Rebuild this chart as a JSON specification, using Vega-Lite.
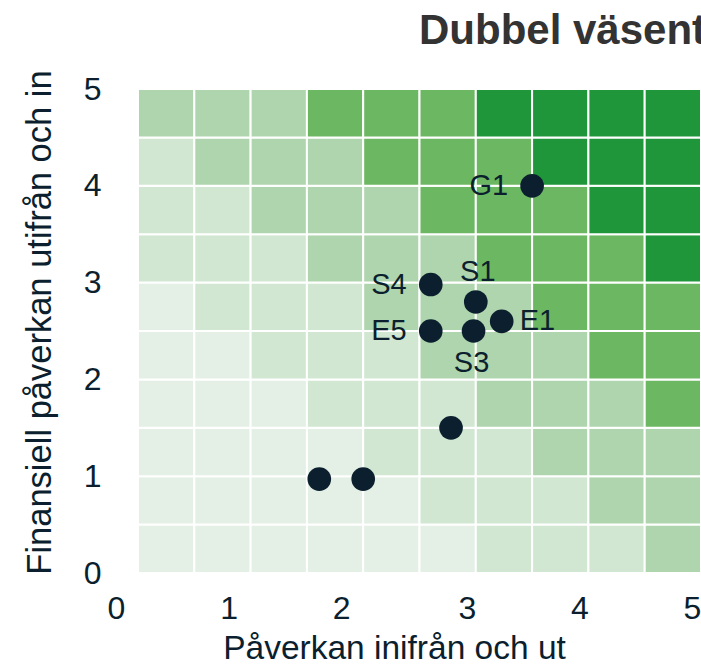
{
  "$schema": "https://vega.github.io/schema/vega-lite/v6.json",
  "width": 563,
  "height": 484,
  "autosize": {"type": "none"},
  "padding": {"left": 138, "top": 89, "right": 0, "bottom": 92},
  "background": "white",
  "title": {
    "text": "Dubbel väsentlighetsanalys",
    "anchor": "start",
    "frame": "group",
    "dx": 281,
    "dy": 42,
    "fontSize": 42,
    "font": "Liberation Sans",
    "fontWeight": "bold",
    "color": "#333333",
    "baseline": "alphabetic",
    "offset": 26
  },
  "config": {
    "view": {"stroke": null},
    "font": "Liberation Sans"
  },
  "datasets": {
    "cells": [
      {"x": 0, "x2": 0.5, "y": 0, "y2": 0.5, "v": 1}, {"x": 0.5, "x2": 1, "y": 0, "y2": 0.5, "v": 1}, {"x": 1, "x2": 1.5, "y": 0, "y2": 0.5, "v": 1}, {"x": 1.5, "x2": 2, "y": 0, "y2": 0.5, "v": 1}, {"x": 2, "x2": 2.5, "y": 0, "y2": 0.5, "v": 1}, {"x": 2.5, "x2": 3, "y": 0, "y2": 0.5, "v": 1}, {"x": 3, "x2": 3.5, "y": 0, "y2": 0.5, "v": 2}, {"x": 3.5, "x2": 4, "y": 0, "y2": 0.5, "v": 2}, {"x": 4, "x2": 4.5, "y": 0, "y2": 0.5, "v": 2}, {"x": 4.5, "x2": 5, "y": 0, "y2": 0.5, "v": 3},
      {"x": 0, "x2": 0.5, "y": 0.5, "y2": 1, "v": 1}, {"x": 0.5, "x2": 1, "y": 0.5, "y2": 1, "v": 1}, {"x": 1, "x2": 1.5, "y": 0.5, "y2": 1, "v": 1}, {"x": 1.5, "x2": 2, "y": 0.5, "y2": 1, "v": 1}, {"x": 2, "x2": 2.5, "y": 0.5, "y2": 1, "v": 1}, {"x": 2.5, "x2": 3, "y": 0.5, "y2": 1, "v": 2}, {"x": 3, "x2": 3.5, "y": 0.5, "y2": 1, "v": 2}, {"x": 3.5, "x2": 4, "y": 0.5, "y2": 1, "v": 2}, {"x": 4, "x2": 4.5, "y": 0.5, "y2": 1, "v": 3}, {"x": 4.5, "x2": 5, "y": 0.5, "y2": 1, "v": 3},
      {"x": 0, "x2": 0.5, "y": 1, "y2": 1.5, "v": 1}, {"x": 0.5, "x2": 1, "y": 1, "y2": 1.5, "v": 1}, {"x": 1, "x2": 1.5, "y": 1, "y2": 1.5, "v": 1}, {"x": 1.5, "x2": 2, "y": 1, "y2": 1.5, "v": 1}, {"x": 2, "x2": 2.5, "y": 1, "y2": 1.5, "v": 2}, {"x": 2.5, "x2": 3, "y": 1, "y2": 1.5, "v": 2}, {"x": 3, "x2": 3.5, "y": 1, "y2": 1.5, "v": 2}, {"x": 3.5, "x2": 4, "y": 1, "y2": 1.5, "v": 3}, {"x": 4, "x2": 4.5, "y": 1, "y2": 1.5, "v": 3}, {"x": 4.5, "x2": 5, "y": 1, "y2": 1.5, "v": 3},
      {"x": 0, "x2": 0.5, "y": 1.5, "y2": 2, "v": 1}, {"x": 0.5, "x2": 1, "y": 1.5, "y2": 2, "v": 1}, {"x": 1, "x2": 1.5, "y": 1.5, "y2": 2, "v": 1}, {"x": 1.5, "x2": 2, "y": 1.5, "y2": 2, "v": 2}, {"x": 2, "x2": 2.5, "y": 1.5, "y2": 2, "v": 2}, {"x": 2.5, "x2": 3, "y": 1.5, "y2": 2, "v": 2}, {"x": 3, "x2": 3.5, "y": 1.5, "y2": 2, "v": 3}, {"x": 3.5, "x2": 4, "y": 1.5, "y2": 2, "v": 3}, {"x": 4, "x2": 4.5, "y": 1.5, "y2": 2, "v": 3}, {"x": 4.5, "x2": 5, "y": 1.5, "y2": 2, "v": 4},
      {"x": 0, "x2": 0.5, "y": 2, "y2": 2.5, "v": 1}, {"x": 0.5, "x2": 1, "y": 2, "y2": 2.5, "v": 1}, {"x": 1, "x2": 1.5, "y": 2, "y2": 2.5, "v": 2}, {"x": 1.5, "x2": 2, "y": 2, "y2": 2.5, "v": 2}, {"x": 2, "x2": 2.5, "y": 2, "y2": 2.5, "v": 2}, {"x": 2.5, "x2": 3, "y": 2, "y2": 2.5, "v": 3}, {"x": 3, "x2": 3.5, "y": 2, "y2": 2.5, "v": 3}, {"x": 3.5, "x2": 4, "y": 2, "y2": 2.5, "v": 3}, {"x": 4, "x2": 4.5, "y": 2, "y2": 2.5, "v": 4}, {"x": 4.5, "x2": 5, "y": 2, "y2": 2.5, "v": 4},
      {"x": 0, "x2": 0.5, "y": 2.5, "y2": 3, "v": 1}, {"x": 0.5, "x2": 1, "y": 2.5, "y2": 3, "v": 2}, {"x": 1, "x2": 1.5, "y": 2.5, "y2": 3, "v": 2}, {"x": 1.5, "x2": 2, "y": 2.5, "y2": 3, "v": 2}, {"x": 2, "x2": 2.5, "y": 2.5, "y2": 3, "v": 3}, {"x": 2.5, "x2": 3, "y": 2.5, "y2": 3, "v": 3}, {"x": 3, "x2": 3.5, "y": 2.5, "y2": 3, "v": 3}, {"x": 3.5, "x2": 4, "y": 2.5, "y2": 3, "v": 4}, {"x": 4, "x2": 4.5, "y": 2.5, "y2": 3, "v": 4}, {"x": 4.5, "x2": 5, "y": 2.5, "y2": 3, "v": 4},
      {"x": 0, "x2": 0.5, "y": 3, "y2": 3.5, "v": 2}, {"x": 0.5, "x2": 1, "y": 3, "y2": 3.5, "v": 2}, {"x": 1, "x2": 1.5, "y": 3, "y2": 3.5, "v": 2}, {"x": 1.5, "x2": 2, "y": 3, "y2": 3.5, "v": 3}, {"x": 2, "x2": 2.5, "y": 3, "y2": 3.5, "v": 3}, {"x": 2.5, "x2": 3, "y": 3, "y2": 3.5, "v": 3}, {"x": 3, "x2": 3.5, "y": 3, "y2": 3.5, "v": 4}, {"x": 3.5, "x2": 4, "y": 3, "y2": 3.5, "v": 4}, {"x": 4, "x2": 4.5, "y": 3, "y2": 3.5, "v": 4}, {"x": 4.5, "x2": 5, "y": 3, "y2": 3.5, "v": 5},
      {"x": 0, "x2": 0.5, "y": 3.5, "y2": 4, "v": 2}, {"x": 0.5, "x2": 1, "y": 3.5, "y2": 4, "v": 2}, {"x": 1, "x2": 1.5, "y": 3.5, "y2": 4, "v": 3}, {"x": 1.5, "x2": 2, "y": 3.5, "y2": 4, "v": 3}, {"x": 2, "x2": 2.5, "y": 3.5, "y2": 4, "v": 3}, {"x": 2.5, "x2": 3, "y": 3.5, "y2": 4, "v": 4}, {"x": 3, "x2": 3.5, "y": 3.5, "y2": 4, "v": 4}, {"x": 3.5, "x2": 4, "y": 3.5, "y2": 4, "v": 4}, {"x": 4, "x2": 4.5, "y": 3.5, "y2": 4, "v": 5}, {"x": 4.5, "x2": 5, "y": 3.5, "y2": 4, "v": 5},
      {"x": 0, "x2": 0.5, "y": 4, "y2": 4.5, "v": 2}, {"x": 0.5, "x2": 1, "y": 4, "y2": 4.5, "v": 3}, {"x": 1, "x2": 1.5, "y": 4, "y2": 4.5, "v": 3}, {"x": 1.5, "x2": 2, "y": 4, "y2": 4.5, "v": 3}, {"x": 2, "x2": 2.5, "y": 4, "y2": 4.5, "v": 4}, {"x": 2.5, "x2": 3, "y": 4, "y2": 4.5, "v": 4}, {"x": 3, "x2": 3.5, "y": 4, "y2": 4.5, "v": 4}, {"x": 3.5, "x2": 4, "y": 4, "y2": 4.5, "v": 5}, {"x": 4, "x2": 4.5, "y": 4, "y2": 4.5, "v": 5}, {"x": 4.5, "x2": 5, "y": 4, "y2": 4.5, "v": 5},
      {"x": 0, "x2": 0.5, "y": 4.5, "y2": 5, "v": 3}, {"x": 0.5, "x2": 1, "y": 4.5, "y2": 5, "v": 3}, {"x": 1, "x2": 1.5, "y": 4.5, "y2": 5, "v": 3}, {"x": 1.5, "x2": 2, "y": 4.5, "y2": 5, "v": 4}, {"x": 2, "x2": 2.5, "y": 4.5, "y2": 5, "v": 4}, {"x": 2.5, "x2": 3, "y": 4.5, "y2": 5, "v": 4}, {"x": 3, "x2": 3.5, "y": 4.5, "y2": 5, "v": 5}, {"x": 3.5, "x2": 4, "y": 4.5, "y2": 5, "v": 5}, {"x": 4, "x2": 4.5, "y": 4.5, "y2": 5, "v": 5}, {"x": 4.5, "x2": 5, "y": 4.5, "y2": 5, "v": 5}
    ],
    "points": [
      {"label": "G1", "x": 3.5, "y": 4.0},
      {"label": "S4", "x": 2.6, "y": 2.98},
      {"label": "S1", "x": 3.0, "y": 2.8},
      {"label": "E5", "x": 2.6, "y": 2.5},
      {"label": "S3", "x": 2.98, "y": 2.5},
      {"label": "E1", "x": 3.23, "y": 2.6},
      {"label": "", "x": 2.78, "y": 1.5},
      {"label": "", "x": 1.61, "y": 0.97},
      {"label": "", "x": 2.0, "y": 0.97}
    ]
  },
  "layer": [
    {
      "data": {"name": "cells"},
      "mark": {"type": "rect", "stroke": "white", "strokeWidth": 2},
      "encoding": {
        "x": {
          "field": "x", "type": "quantitative",
          "scale": {"domain": [0, 5], "nice": false, "zero": false},
          "axis": {
            "values": [0, 1, 2, 3, 4, 5], "format": "d",
            "domain": false, "ticks": false, "grid": false,
            "labelFontSize": 32, "labelColor": "#0b1f2e", "labelFlush": false,
            "labelPadding": 20,
            "labelOffset": {"condition": {"test": "datum.value < 2.5", "value": -22}, "value": -9},
            "title": "Påverkan inifrån och ut",
            "titleFontSize": 33.5, "titleFontWeight": "normal", "titleColor": "#0b1f2e",
            "titleX": 256, "titleY": 85, "titleBaseline": "alphabetic"
          }
        },
        "x2": {"field": "x2"},
        "y": {
          "field": "y", "type": "quantitative",
          "scale": {"domain": [0, 5], "nice": false, "zero": false},
          "axis": {
            "values": [0, 1, 2, 3, 4, 5], "format": "d",
            "domain": false, "ticks": false, "grid": false,
            "labelFontSize": 32, "labelColor": "#0b1f2e", "labelFlush": false,
            "labelPadding": 37,
            "title": "Finansiell påverkan utifrån och in",
            "titleFontSize": 34.5, "titleFontWeight": "normal", "titleColor": "#0b1f2e",
            "titleX": -88, "titleY": 233, "titleBaseline": "alphabetic"
          }
        },
        "y2": {"field": "y2"},
        "color": {
          "field": "v", "type": "ordinal",
          "scale": {"domain": [1, 2, 3, 4, 5], "range": ["#e4efe5", "#d1e7d2", "#aed5ad", "#6cb762", "#1f9639"]},
          "legend": null
        }
      }
    },
    {
      "data": {"name": "points"},
      "mark": {"type": "circle", "size": 560, "color": "#0b1f2e", "opacity": 1},
      "encoding": {
        "x": {"field": "x", "type": "quantitative"},
        "y": {"field": "y", "type": "quantitative"}
      }
    },
    {
      "data": {"name": "points"},
      "transform": [{"filter": {"field": "label", "oneOf": ["G1", "S4", "E5"]}}],
      "mark": {"type": "text", "align": "right", "baseline": "middle", "dx": -24, "fontSize": 29, "color": "#0b1f2e"},
      "encoding": {
        "x": {"field": "x", "type": "quantitative"},
        "y": {"field": "y", "type": "quantitative"},
        "text": {"field": "label"}
      }
    },
    {
      "data": {"name": "points"},
      "transform": [{"filter": {"field": "label", "equal": "S1"}}],
      "mark": {"type": "text", "align": "center", "baseline": "alphabetic", "dx": 2, "dy": -21, "fontSize": 29, "color": "#0b1f2e"},
      "encoding": {
        "x": {"field": "x", "type": "quantitative"},
        "y": {"field": "y", "type": "quantitative"},
        "text": {"field": "label"}
      }
    },
    {
      "data": {"name": "points"},
      "transform": [{"filter": {"field": "label", "equal": "S3"}}],
      "mark": {"type": "text", "align": "center", "baseline": "alphabetic", "dx": -2, "dy": 41, "fontSize": 29, "color": "#0b1f2e"},
      "encoding": {
        "x": {"field": "x", "type": "quantitative"},
        "y": {"field": "y", "type": "quantitative"},
        "text": {"field": "label"}
      }
    },
    {
      "data": {"name": "points"},
      "transform": [{"filter": {"field": "label", "equal": "E1"}}],
      "mark": {"type": "text", "align": "left", "baseline": "middle", "dx": 18, "fontSize": 29, "color": "#0b1f2e"},
      "encoding": {
        "x": {"field": "x", "type": "quantitative"},
        "y": {"field": "y", "type": "quantitative"},
        "text": {"field": "label"}
      }
    }
  ]
}
